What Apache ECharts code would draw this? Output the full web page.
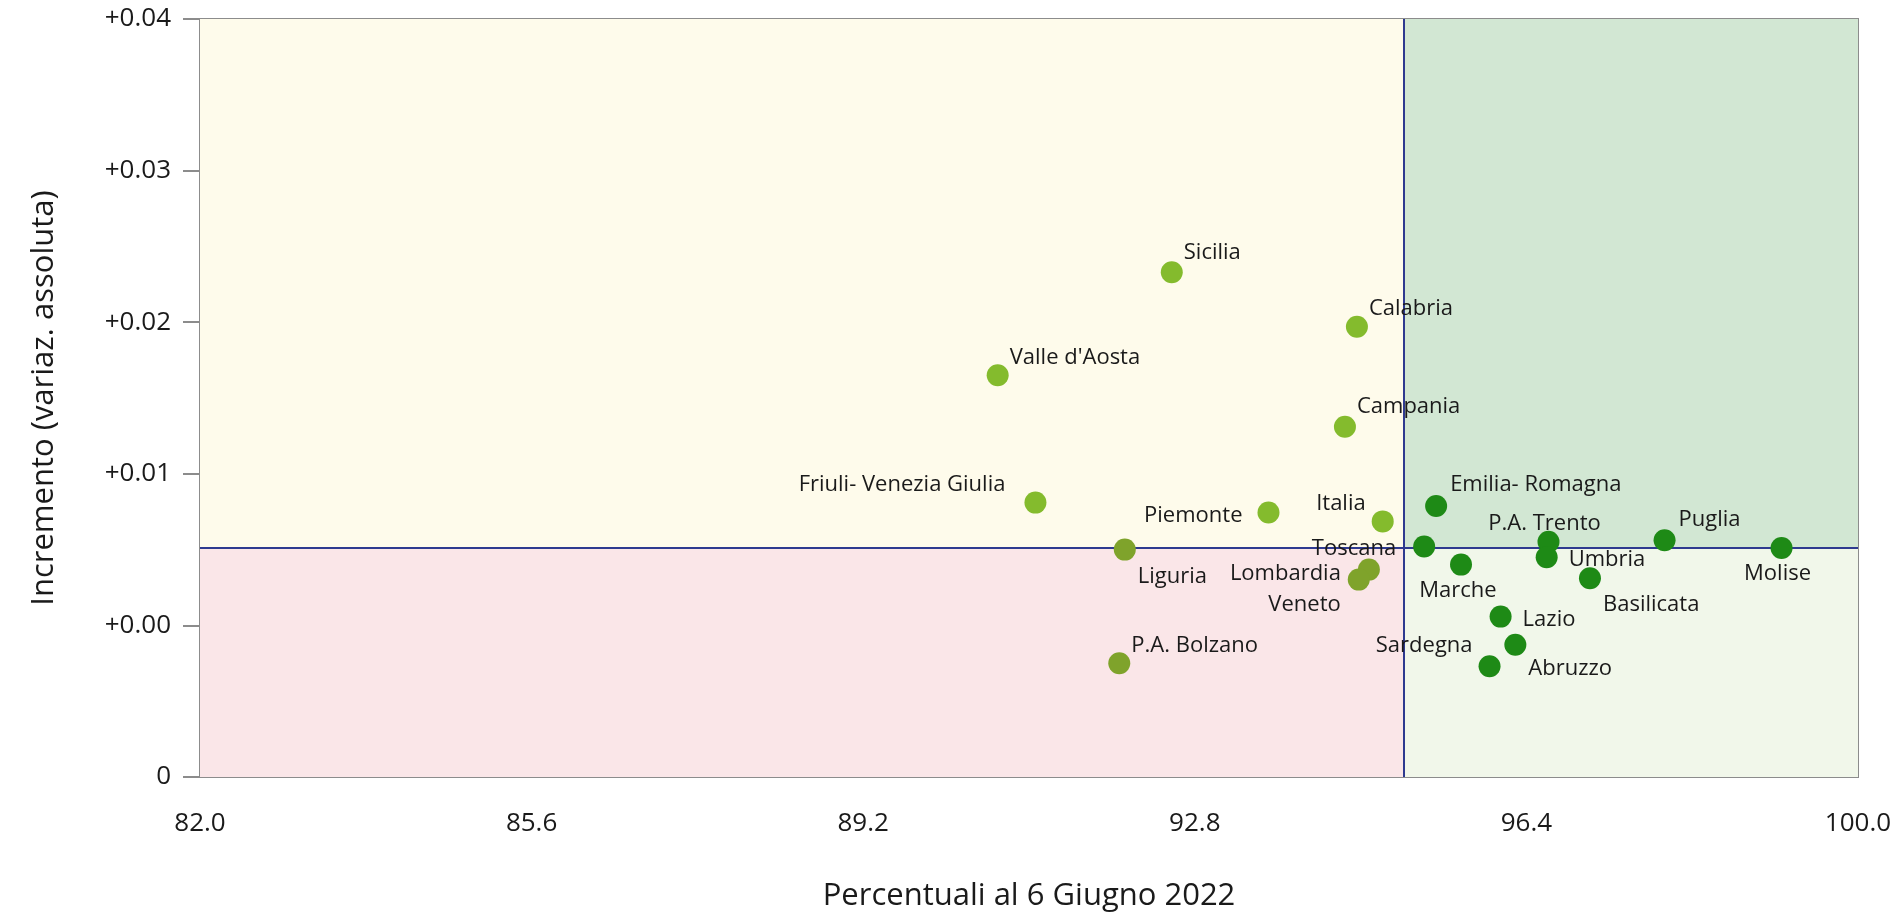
<!DOCTYPE html>
<html>
<head>
<meta charset="utf-8">
<script src="https://cdn.jsdelivr.net/npm/echarts@6/dist/echarts.min.js"></script>
<style>
html,body{margin:0;padding:0;background:#fff;}
#chart{width:1903px;height:917px;}
</style>
</head>
<body>
<div id="chart"></div>
<script>
// ---- data ----
const regions = ["Sicilia","Calabria","Valle d'Aosta","Campania","Friuli- Venezia Giulia","Piemonte","Italia","Liguria","Lombardia","Veneto","P.A. Bolzano","Toscana","Emilia- Romagna","Marche","P.A. Trento","Umbria","Puglia","Molise","Basilicata","Lazio","Abruzzo","Sardegna"];
const percentuali = [92.55,94.56,90.66,94.43,91.07,93.60,94.84,92.04,94.69,94.58,91.98,95.29,95.42,95.69,96.64,96.62,97.90,99.17,97.09,96.12,96.28,96.00];
const incremento = [0.0233,0.0197,0.0165,0.0131,0.0081,0.00745,0.00686,0.0050,0.00368,0.00302,-0.0025,0.0052,0.00787,0.00401,0.00551,0.0045,0.00562,0.0051,0.00311,0.00058,-0.00128,-0.0027];
const yTickLabels = ["0","+0.00","+0.01","+0.02","+0.03","+0.04"];
const xTickLabels = ["82.0","85.6","89.2","92.8","96.4","100.0"];
const thresholdX = 95.07;
const thresholdY = 0.0051;
const xMin = 82, xMax = 100, xStep = 3.6;
const yMin = -0.01, yMax = 0.04, yStep = 0.01;

// ---- label placement (style) ----
const labelPlace = {
  "Sicilia": ["left", 12, -19],
  "Calabria": ["left", 12, -18],
  "Valle d'Aosta": ["left", 12, -18],
  "Campania": ["left", 12, -20],
  "Friuli- Venezia Giulia": ["right", -30, -18],
  "Piemonte": ["right", -26, 3],
  "Italia": ["right", -17, -18],
  "Liguria": ["left", 13, 27],
  "Lombardia": ["right", -28, 4],
  "Veneto": ["right", -18, 25],
  "P.A. Bolzano": ["left", 12, -18],
  "Toscana": ["right", -28, 2],
  "Emilia- Romagna": ["left", 14, -21],
  "Marche": ["center", -3, 26],
  "P.A. Trento": ["center", -4, -18],
  "Umbria": ["left", 22, 3],
  "Puglia": ["left", 14, -20],
  "Molise": ["center", -4, 26],
  "Basilicata": ["left", 13, 26],
  "Lazio": ["left", 22, 3],
  "Abruzzo": ["left", 13, 24],
  "Sardegna": ["right", -17, -21]
};

const colUpperLeft = '#84BB2D', colLowerLeft = '#7FA32B', colRight = '#1E8A16';
function pointColor(x, y) {
  if (x >= thresholdX) return colRight;
  return y >= thresholdY ? colUpperLeft : colLowerLeft;
}

const points = regions.map((n, i) => {
  const p = labelPlace[n] || ["left", 12, -18];
  return {
    name: n,
    value: [percentuali[i], incremento[i]],
    itemStyle: { color: pointColor(percentuali[i], incremento[i]), opacity: 1 },
    label: { align: p[0], offset: [p[1], p[2]] }
  };
});

const FONT = '"Open Sans", "Noto Sans", sans-serif';
const chart = echarts.init(document.getElementById('chart'), null, { renderer: 'canvas' });
chart.setOption({
  animation: false,
  backgroundColor: '#ffffff',
  grid: { left: 200, right: 45, top: 19, bottom: 135, show: true, borderColor: '#8c8c8c', borderWidth: 2, backgroundColor: 'transparent' },
  xAxis: {
    type: 'value', min: xMin, max: xMax, interval: xStep,
    name: 'Percentuali al 6 Giugno 2022', nameLocation: 'middle', nameGap: 104,
    nameTextStyle: { fontFamily: FONT, fontSize: 31, color: '#1a1a1a' },
    axisLine: { show: true, lineStyle: { color: '#8c8c8c', width: 2 } },
    axisTick: { show: true, length: 16, lineStyle: { color: '#8c8c8c', width: 2 } },
    axisLabel: { margin: 34, fontFamily: FONT, fontSize: 26, color: '#1a1a1a',
      formatter: (v) => xTickLabels[Math.round((v - xMin) / xStep)] },
    splitLine: { show: false }
  },
  yAxis: {
    type: 'value', min: yMin, max: yMax, interval: yStep,
    name: 'Incremento (variaz. assoluta)', nameLocation: 'middle', nameGap: 140,
    nameTextStyle: { fontFamily: FONT, fontSize: 31, color: '#1a1a1a' },
    axisLine: { show: true, lineStyle: { color: '#8c8c8c', width: 2 } },
    axisTick: { show: true, length: 17, lineStyle: { color: '#8c8c8c', width: 2 } },
    axisLabel: { margin: 29, fontFamily: FONT, fontSize: 26, color: '#1a1a1a',
      formatter: (v) => yTickLabels[Math.round((v - yMin) / yStep)] },
    splitLine: { show: false }
  },
  series: [
    {
      type: 'scatter', data: [], z: 1, silent: true,
      markArea: {
        silent: true,
        itemStyle: { opacity: 1 },
        data: [
          [{ coord: [xMin, thresholdY], itemStyle: { color: '#FEFBEB' } }, { coord: [thresholdX, yMax] }],
          [{ coord: [xMin, yMin], itemStyle: { color: '#FAE6E8' } }, { coord: [thresholdX, thresholdY] }],
          [{ coord: [thresholdX, thresholdY], itemStyle: { color: '#D2E7D3' } }, { coord: [xMax, yMax] }],
          [{ coord: [thresholdX, yMin], itemStyle: { color: '#F1F7EA' } }, { coord: [xMax, thresholdY] }]
        ]
      },
      markLine: {
        silent: true, symbol: 'none', label: { show: false }, precision: 6,
        lineStyle: { color: '#2E3A8F', width: 2, type: 'solid' },
        data: [
          [{ coord: [thresholdX, yMin] }, { coord: [thresholdX, yMax] }],
          [{ coord: [xMin, thresholdY] }, { coord: [xMax, thresholdY] }]
        ]
      }
    },
    {
      type: 'scatter', z: 5, symbolSize: 22,
      data: points,
      label: {
        show: true, position: ['50%', '50%'], verticalAlign: 'middle',
        fontFamily: FONT, fontSize: 22, color: '#1a1a1a',
        formatter: (p) => p.name
      }
    }
  ]
});
</script>
</body>
</html>
